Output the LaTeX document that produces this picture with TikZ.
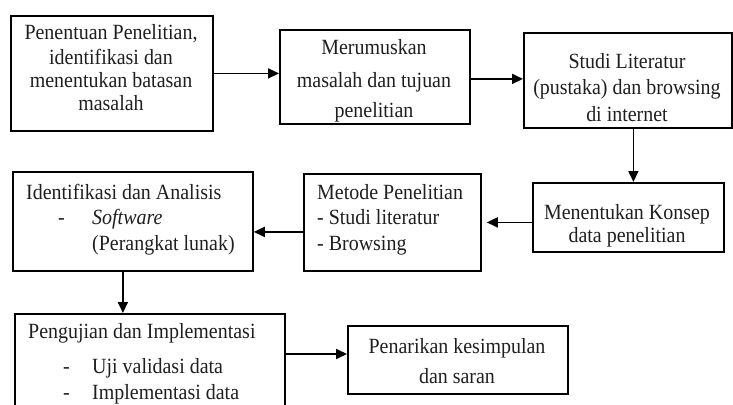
\documentclass[tikz,border=0pt]{standalone}
\usepackage{fontspec}
\setmainfont{Liberation Serif}[FakeStretch=0.92]
\usetikzlibrary{arrows.meta}
\begin{document}
\begin{tikzpicture}[x=1pt,y=-1pt,
  box/.style={draw,line width=1.8pt,inner sep=0pt,anchor=north west},
  txt/.style={inner sep=0pt,text=black!88,font=\fontsize{21.7}{24}\selectfont},
  lc/.style={txt,anchor=base},
  ll/.style={txt,anchor=base west},
  conn/.style={line width=1.8pt,-{Triangle[length=11pt,width=10pt]}}]
\useasboundingbox (0,0) rectangle (733,404);
\clip (0,0) rectangle (733,404);
% boxes
\node[box,minimum width=202pt,minimum height=115pt] (b1) at (10,15) {};
\node[box,minimum width=190pt,minimum height=94pt] (b2) at (279,29) {};
\node[box,minimum width=208pt,minimum height=95pt] (b3) at (523,32) {};
\node[box,minimum width=191pt,minimum height=69pt] (b4) at (532,182) {};
\node[box,minimum width=177pt,minimum height=97pt] (b5) at (303,173) {};
\node[box,minimum width=240pt,minimum height=99pt] (b6) at (12,171) {};
\node[box,minimum width=270pt,minimum height=110pt] (b7) at (14,313) {};
\node[box,minimum width=220pt,minimum height=68pt] (b8) at (347,325) {};
% texts box 1
\node[lc] (t1a) at (111,40) {Penentuan Penelitian,};
\node[lc] (t1b) at (111,64) {identifikasi dan};
\node[lc] (t1c) at (111,87) {menentukan batasan};
\node[lc] (t1d) at (111,110) {masalah};
% box 2
\node[lc] (t2a) at (374,55) {Merumuskan};
\node[lc] (t2b) at (374,87) {masalah dan tujuan};
\begin{scope}
  \clip (b2.north west) rectangle ([yshift=3.5pt]b2.south east);
  \node[lc] (t2c) at (374,117) {penelitian};
\end{scope}
% box 3
\node[lc] (t3a) at (627,68) {Studi Literatur};
\node[lc] (t3b) at (627,94) {(pustaka) dan browsing};
\node[lc] (t3c) at (627,121) {di internet};
% box 4
\node[lc] (t4a) at (627,219) {Menentukan Konsep};
\node[lc] (t4b) at (627,242) {data penelitian};
% box 5
\node[ll] (t5a) at (317,199) {Metode Penelitian};
\node[ll] (t5b) at (317,224) {- Studi literatur};
\begin{scope}
  \clip (b5.north west) rectangle ([yshift=15pt]b5.south east);
  \node[ll] (t5c) at (317,250) {- Browsing};
\end{scope}
% box 6
\node[ll] (t6a) at (26,199) {Identifikasi dan Analisis};
\node[ll] (t6b) at (58,224) {-};
\node[ll] (t6c) at (92,224) {\itshape Software};
\node[ll] (t6d) at (92,250) {(Perangkat lunak)};
% box 7
\node[ll] (t7a) at (28,338) {Pengujian dan Implementasi};
\node[ll] (t7b) at (63,373) {-};
\node[ll] (t7c) at (92,373) {Uji validasi data};
\node[ll] (t7d) at (63,399) {-};
\node[ll] (t7e) at (92,399) {Implementasi data};
% box 8
\node[lc] (t8a) at (457,353) {Penarikan kesimpulan};
\node[lc] (t8b) at (457,383) {dan saran};
% connectors
\draw[conn] (b1.east) -- (b1.east -| b2.west);
\draw[conn] ([yshift=-2pt]b2.east) -- ([yshift=-2pt]b2.east -| b3.west);
\draw[conn] ([xshift=5.5pt]b3.south) -- ([xshift=5.5pt]b3.south |- b4.north);
\draw[conn,shorten >=5pt] (b5.east -| b4.west) -- (b5.east);
\draw[conn] ([yshift=-9.5pt]b5.west) -- ([yshift=-9.5pt]b5.west -| b6.east);
\draw[conn] ([xshift=-10pt]b6.south) -- ([xshift=-10pt]b6.south |- b7.north);
\draw[conn] (b7.east |- 0,354) -- (b7.east |- 0,354 -| b8.west);
\end{tikzpicture}
\end{document}
